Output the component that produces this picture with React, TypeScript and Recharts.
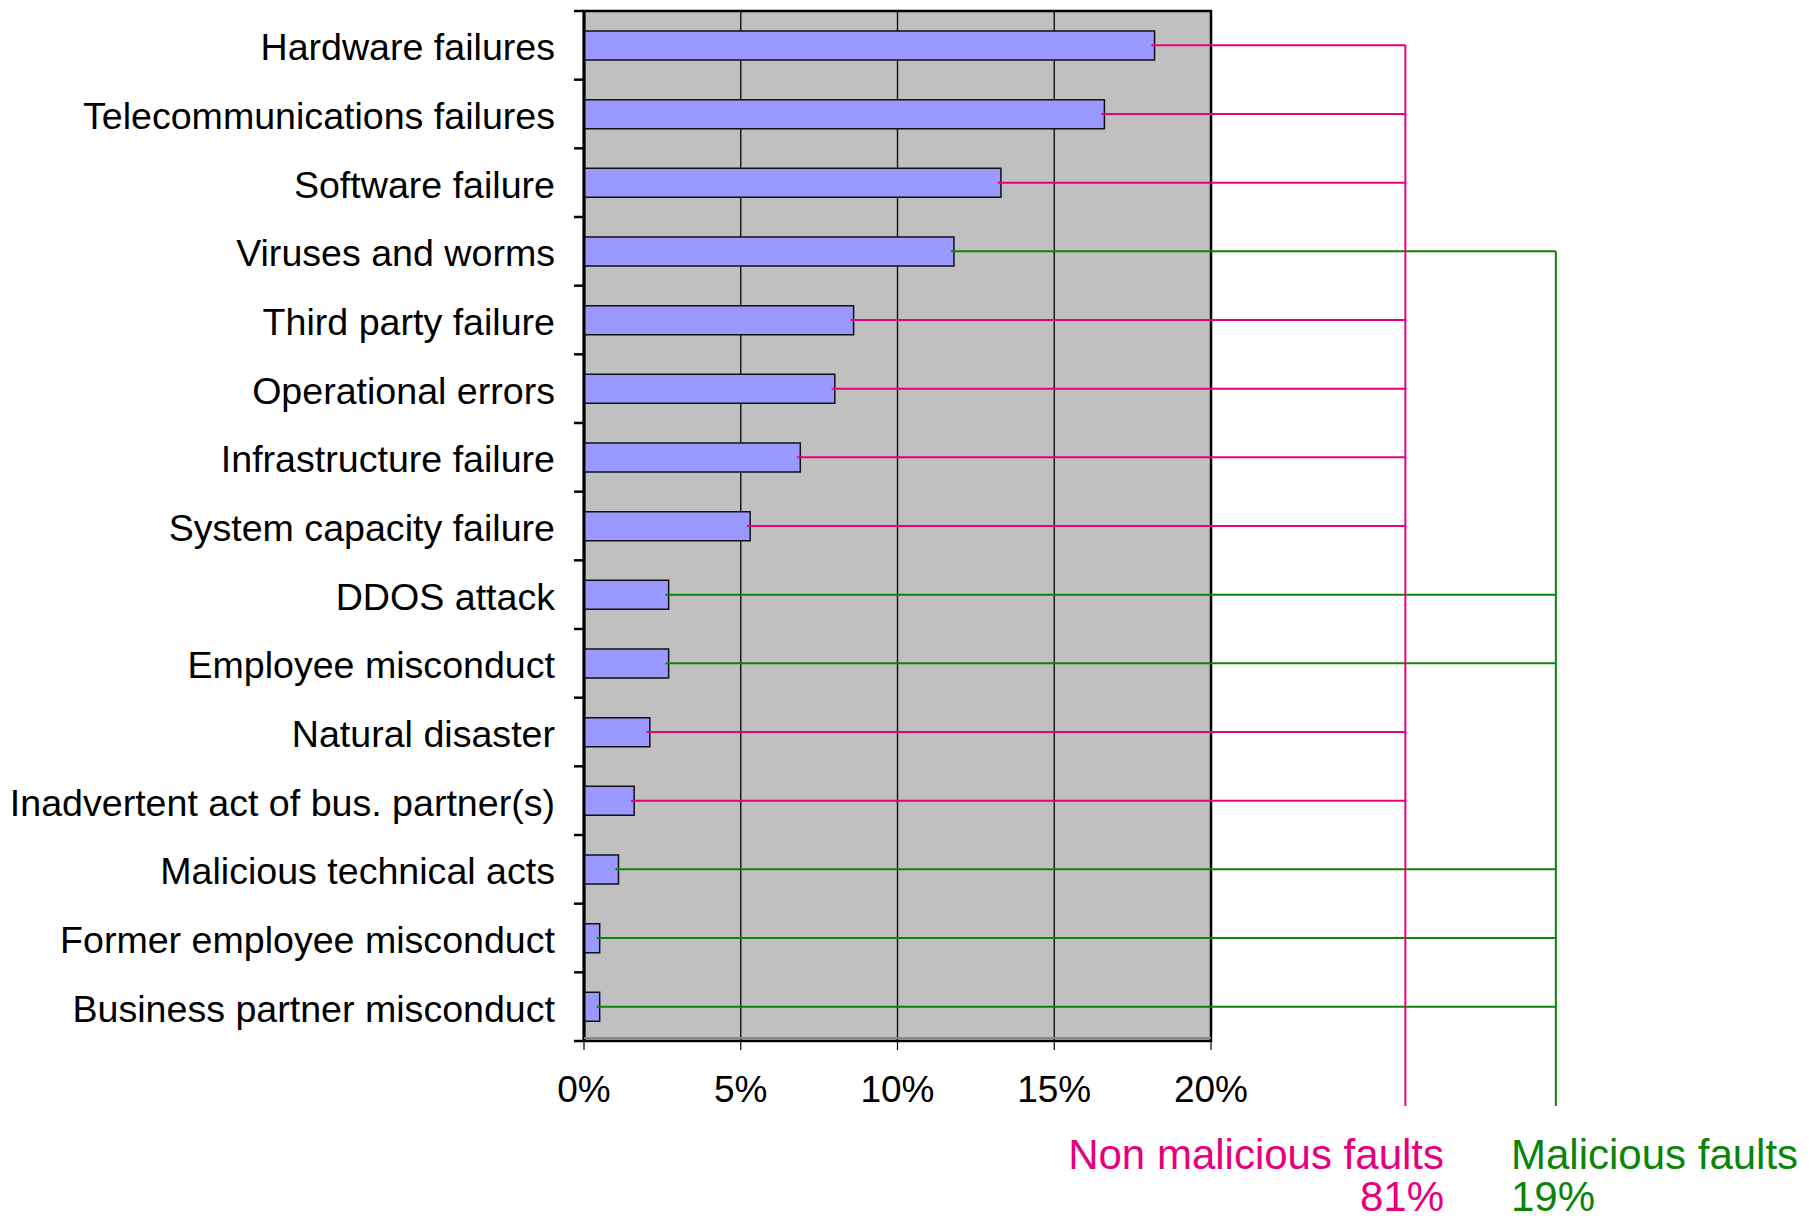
import {
  BarChart,
  Bar,
  XAxis,
  YAxis,
  CartesianGrid,
  ReferenceLine,
  ReferenceArea,
} from "recharts";

const categories = [
  "Hardware failures",
  "Telecommunications failures",
  "Software failure",
  "Viruses and worms",
  "Third party failure",
  "Operational errors",
  "Infrastructure failure",
  "System capacity failure",
  "DDOS attack",
  "Employee misconduct",
  "Natural disaster",
  "Inadvertent act of bus. partner(s)",
  "Malicious technical acts",
  "Former employee misconduct",
  "Business partner misconduct",
];

// share of incidents, in percent
const shares = [18.2, 16.6, 13.3, 11.8, 8.6, 8.0, 6.9, 5.3, 2.7, 2.7, 2.1, 1.6, 1.1, 0.5, 0.5];

const malicious = [
  false, false, false, true, false, false, false, false,
  true, true, false, false, true, true, true,
];

const xTicks = [0, 5, 10, 15, 20];

const W = 1820;
const H = 1218;
const FONT = '"Liberation Sans", Arial, sans-serif';
const PINK = "#E6007E";
const GREEN = "#0A850A";

// plot frame
const PLOT_LEFT = 584;
const PLOT_RIGHT = 1211;
const PLOT_TOP = 11;
const PLOT_BOTTOM = 1041;
const X_MAX = 20;
const BAND = (PLOT_BOTTOM - PLOT_TOP) / categories.length;

// where the two group brackets stand, in x-axis units (beyond the 20% frame)
const PINK_AT = 26.2;
const GREEN_AT = 31.0;
const STEM_BOTTOM = 1106;

const rows = categories.map((name, i) => ({
  name,
  share: shares[i],
  malicious: malicious[i],
}));

const groupTotal = (isMal: boolean) =>
  Math.round(rows.filter((r) => r.malicious === isMal).reduce((a, r) => a + r.share, 0));

const firstRow = (isMal: boolean) => rows.findIndex((r) => r.malicious === isMal);

const xPx = (v: number) => PLOT_LEFT + (v / X_MAX) * (PLOT_RIGHT - PLOT_LEFT);
const rowMid = (i: number) => PLOT_TOP + BAND * (i + 0.5);

const RowTick = (props: any) => {
  const { x, y, payload } = props;
  return (
    <text x={x} y={y} dy={15} textAnchor="end" fontSize={37.6} fontFamily={FONT} fill="#000">
      {payload.value}
    </text>
  );
};

export default function App() {
  const last = categories[categories.length - 1];
  return (
    <div style={{ position: "absolute", left: 0, top: 0, width: W, height: H, background: "#fff" }}>
      <BarChart
        width={W}
        height={H}
        data={rows}
        layout="vertical"
        margin={{ top: PLOT_TOP, right: W - PLOT_RIGHT, bottom: 0, left: 0 }}
      >
        <CartesianGrid horizontal={false} stroke="#111" strokeWidth={1.4} fill="#C0C0C0" fillOpacity={1} />
        <XAxis
          type="number"
          domain={[0, X_MAX]}
          ticks={xTicks}
          allowDataOverflow
          height={H - PLOT_BOTTOM}
          tickFormatter={(v: number) => `${v}%`}
          tick={{ fontSize: 37, fontFamily: FONT, fill: "#000" }}
          tickSize={9}
          tickMargin={26}
          tickLine={{ stroke: "#000", strokeWidth: 1.2 }}
          axisLine={{ stroke: "#000", strokeWidth: 2 }}
        />
        <YAxis
          type="category"
          dataKey="name"
          width={PLOT_LEFT}
          interval={0}
          tick={<RowTick />}
          tickSize={0}
          tickMargin={29}
          axisLine={{ stroke: "#000", strokeWidth: 3 }}
        />

        <ReferenceArea x1={0} x2={X_MAX} fill="none" stroke="#000" strokeWidth={2.5} ifOverflow="visible" />

        {/* tick marks on the row boundaries of the category axis */}
        {categories.map((c) => (
          <ReferenceLine
            key={`rt-${c}`}
            position="start"
            ifOverflow="visible"
            stroke="#000"
            strokeWidth={2.5}
            segment={[
              { x: -0.32, y: c },
              { x: 0, y: c },
            ]}
          />
        ))}
        <ReferenceLine
          position="end"
          ifOverflow="visible"
          stroke="#000"
          strokeWidth={2.5}
          segment={[
            { x: -0.32, y: last },
            { x: 0, y: last },
          ]}
        />

        <Bar
          dataKey="share"
          fill="#9999FF"
          stroke="#111"
          strokeWidth={1.5}
          barSize={29}
          isAnimationActive={false}
        />

        {/* leader lines from each bar to its group bracket */}
        {rows.map((r) => (
          <ReferenceLine
            key={`lead-${r.name}`}
            ifOverflow="visible"
            stroke={r.malicious ? GREEN : PINK}
            strokeWidth={2}
            segment={[
              { x: r.share - 0.1, y: r.name },
              { x: r.malicious ? GREEN_AT : PINK_AT, y: r.name },
            ]}
          />
        ))}
      </BarChart>

      <svg
        width={W}
        height={H}
        style={{ position: "absolute", left: 0, top: 0, pointerEvents: "none" }}
        fontFamily={FONT}
        fontSize={42}
      >
        {/* grey rule just above the value axis */}
        <line x1={PLOT_LEFT} x2={PLOT_RIGHT} y1={PLOT_BOTTOM - 3} y2={PLOT_BOTTOM - 3} stroke="#888" strokeWidth={2} />

        {/* bracket stems */}
        <line
          x1={xPx(PINK_AT)}
          x2={xPx(PINK_AT)}
          y1={rowMid(firstRow(false))}
          y2={STEM_BOTTOM}
          stroke={PINK}
          strokeWidth={2}
        />
        <line
          x1={xPx(GREEN_AT)}
          x2={xPx(GREEN_AT)}
          y1={rowMid(firstRow(true))}
          y2={STEM_BOTTOM}
          stroke={GREEN}
          strokeWidth={2}
        />

        <text x={1444} y={1169} textAnchor="end" fill={PINK}>
          Non malicious faults
        </text>
        <text x={1444} y={1211} textAnchor="end" fill={PINK}>
          {`${groupTotal(false)}%`}
        </text>
        <text x={1511} y={1169} textAnchor="start" fill={GREEN}>
          Malicious faults
        </text>
        <text x={1511} y={1211} textAnchor="start" fill={GREEN}>
          {`${groupTotal(true)}%`}
        </text>
      </svg>
    </div>
  );
}
